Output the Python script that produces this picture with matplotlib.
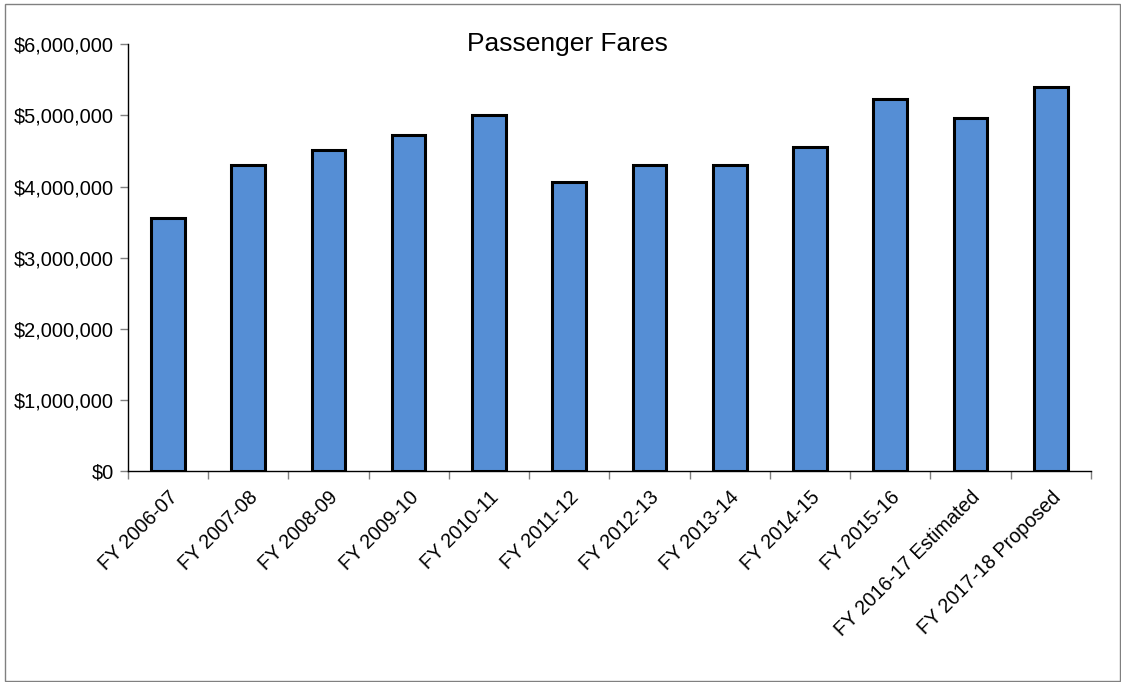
"""Passenger fares bar chart, Excel-style."""
import matplotlib
matplotlib.use("Agg")
import matplotlib.pyplot as plt
import matplotlib.patches as mpatches
from matplotlib.ticker import FuncFormatter, FixedLocator
import numpy as np

plt.rcParams["font.family"] = ["Liberation Sans", "DejaVu Sans"]

years = ["FY 2006-07", "FY 2007-08", "FY 2008-09", "FY 2009-10", "FY 2010-11",
         "FY 2011-12", "FY 2012-13", "FY 2013-14", "FY 2014-15", "FY 2015-16",
         "FY 2016-17 Estimated", "FY 2017-18 Proposed"]
fares = [3560000, 4310000, 4520000, 4730000, 5010000, 4060000,
         4310000, 4310000, 4550000, 5230000, 4970000, 5400000]

fig = plt.figure(figsize=(11.21, 6.82), dpi=100)
ax = fig.add_axes([0.1139, 0.3094, 0.8593, 0.6256])

x = np.arange(len(years))
ax.bar(x, fares, width=0.42, color="#558ED5", edgecolor="black", linewidth=2.2, zorder=2)

ax.set_xlim(-0.5, len(years) - 0.5)
ax.set_ylim(0, 6000000)
ax.set_yticks(np.arange(0, 6000001, 1000000))
ax.yaxis.set_major_formatter(FuncFormatter(lambda v, _: f"${v:,.0f}"))
ax.tick_params(axis="y", labelsize=14.4, length=6, width=1, direction="out", pad=4,
               color="#808080")

ax.set_xticks(x)
ax.set_xticklabels(years, rotation=45, ha="right", rotation_mode="anchor", fontsize=14.2)
ax.tick_params(axis="x", which="major", length=0, pad=12)
ax.xaxis.set_minor_locator(FixedLocator(np.arange(-0.5, len(years), 1.0)))
ax.tick_params(axis="x", which="minor", length=6, width=1, direction="out", color="#808080")

for s in ("top", "right"):
    ax.spines[s].set_visible(False)
for s in ("left", "bottom"):
    ax.spines[s].set_linewidth(1)

fig.text(0.506, 0.935, "Passenger Fares", ha="center", va="center", fontsize=19)

# outer chart border
fig.patches.append(mpatches.Rectangle((0.0045, 0.0015), 0.9946, 0.9926, transform=fig.transFigure,
                                      fill=False, edgecolor="#808080", linewidth=1))

fig.savefig("out.png", dpi=100)
